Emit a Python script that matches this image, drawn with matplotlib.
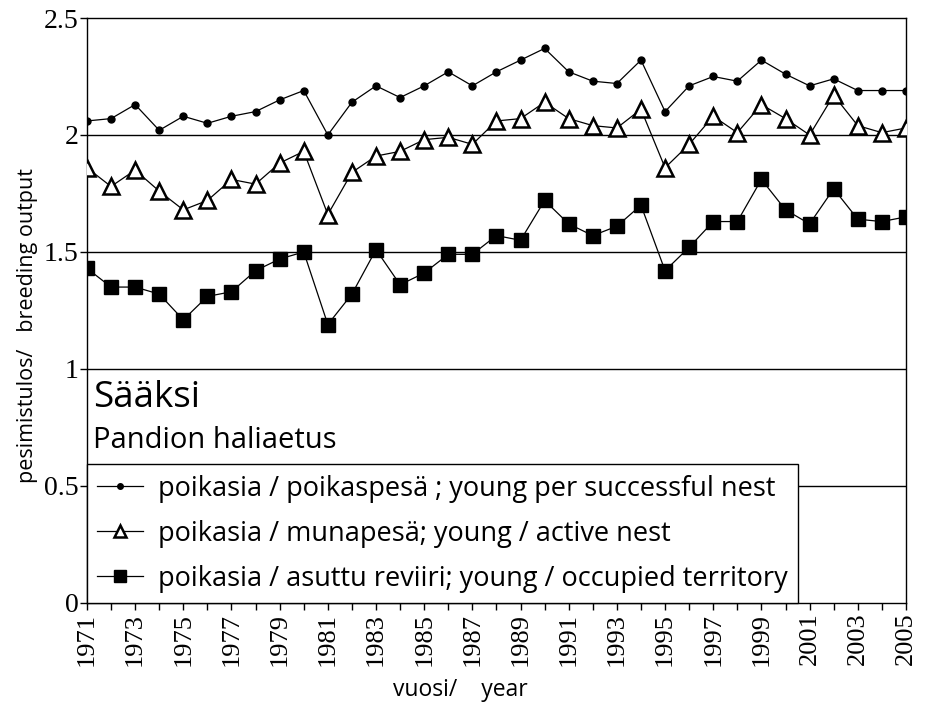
import matplotlib
matplotlib.use("Agg")
import matplotlib.pyplot as plt
import numpy as np

years = list(range(1971, 2006))
young_per_successful = [2.06, 2.07, 2.13, 2.02, 2.08, 2.05, 2.08, 2.10, 2.15, 2.19,
                        2.00, 2.14, 2.21, 2.16, 2.21, 2.27, 2.21, 2.27, 2.32, 2.37,
                        2.27, 2.23, 2.22, 2.32, 2.10, 2.21, 2.25, 2.23, 2.32, 2.26,
                        2.21, 2.24, 2.19, 2.19, 2.19]
young_per_active = [1.86, 1.78, 1.85, 1.76, 1.68, 1.72, 1.81, 1.79, 1.88, 1.93,
                    1.66, 1.84, 1.91, 1.93, 1.98, 1.99, 1.96, 2.06, 2.07, 2.14,
                    2.07, 2.04, 2.03, 2.11, 1.86, 1.96, 2.08, 2.01, 2.13, 2.07,
                    2.00, 2.17, 2.04, 2.01, 2.03]
young_per_territory = [1.43, 1.35, 1.35, 1.32, 1.21, 1.31, 1.33, 1.42, 1.47, 1.50,
                       1.19, 1.32, 1.51, 1.36, 1.41, 1.49, 1.49, 1.57, 1.55, 1.72,
                       1.62, 1.57, 1.61, 1.70, 1.42, 1.52, 1.63, 1.63, 1.81, 1.68,
                       1.62, 1.77, 1.64, 1.63, 1.65]
labels = ["poikasia / poikaspesä ; young per successful nest",
          "poikasia / munapesä; young / active nest",
          "poikasia / asuttu reviiri; young / occupied territory"]
yticks = [0, 0.5, 1, 1.5, 2, 2.5]
ytick_labels = ["0", "0.5", "1", "1.5", "2", "2.5"]

sans = ["Open Sans", "DejaVu Sans"]
serif = ["Liberation Serif", "DejaVu Serif"]

fig = plt.figure(figsize=(9.33, 7.06), dpi=100)
ax = fig.add_axes([0.0932, 0.146, 0.971 - 0.0932, 0.9745 - 0.146])

for y in [0.5, 1, 1.5, 2]:
    ax.axhline(y, color="black", lw=1.0, zorder=0)

ax.plot(years, young_per_successful, color="black", lw=0.9, marker="o",
        markersize=5, label=labels[0], zorder=3)
ax.plot(years, young_per_active, color="black", lw=0.9, marker="^",
        markersize=11, markerfacecolor="white", markeredgecolor="black",
        markeredgewidth=1.8, label=labels[1], zorder=3)
ax.plot(years, young_per_territory, color="black", lw=0.9, marker="s",
        markersize=10, markerfacecolor="black", label=labels[2], zorder=3)

ax.set_xlim(1971, 2005)
ax.set_ylim(0, 2.5)
ax.set_yticks(yticks)
ax.set_yticklabels(ytick_labels, fontfamily=serif, fontsize=20)
ax.set_xticks(years, minor=True)
ax.set_xticks(years[::2])
ax.set_xticklabels([str(y) for y in years[::2]], rotation=90,
                   fontfamily=serif, fontsize=19)
ax.tick_params(axis="both", which="both", direction="out", length=5,
               width=1, color="black")
ax.tick_params(axis="x", pad=2)
ax.tick_params(axis="y", pad=1)
for s in ax.spines.values():
    s.set_linewidth(1.0)
    s.set_color("black")

ax.set_ylabel("pesimistulos/   breeding output", fontfamily=sans, fontsize=15.5)
ax.yaxis.set_label_coords(-0.06, 0.475)
fig.text(460 / 933, 1 - 690 / 706, "vuosi/    year", fontfamily=sans,
         fontsize=16.5, ha="center", va="center")

ax.text(1971.25, 0.875, "Sääksi", fontfamily=sans, fontsize=26.5,
        va="center", ha="left")
ax.text(1971.25, 0.695, "Pandion haliaetus", fontfamily=sans, fontsize=21,
        va="center", ha="left")

leg = ax.legend(loc="lower left", bbox_to_anchor=(0, 0), borderaxespad=0,
                frameon=True, fancybox=False, edgecolor="black",
                framealpha=1.0, facecolor="white",
                prop={"family": sans, "size": 19.5}, handlelength=1.7,
                handletextpad=0.55, labelspacing=0.63, borderpad=0.38,
                markerscale=0.8)
leg.get_frame().set_linewidth(1.0)
leg.set_zorder(5)

fig.savefig("out.png", dpi=100, facecolor="white")
